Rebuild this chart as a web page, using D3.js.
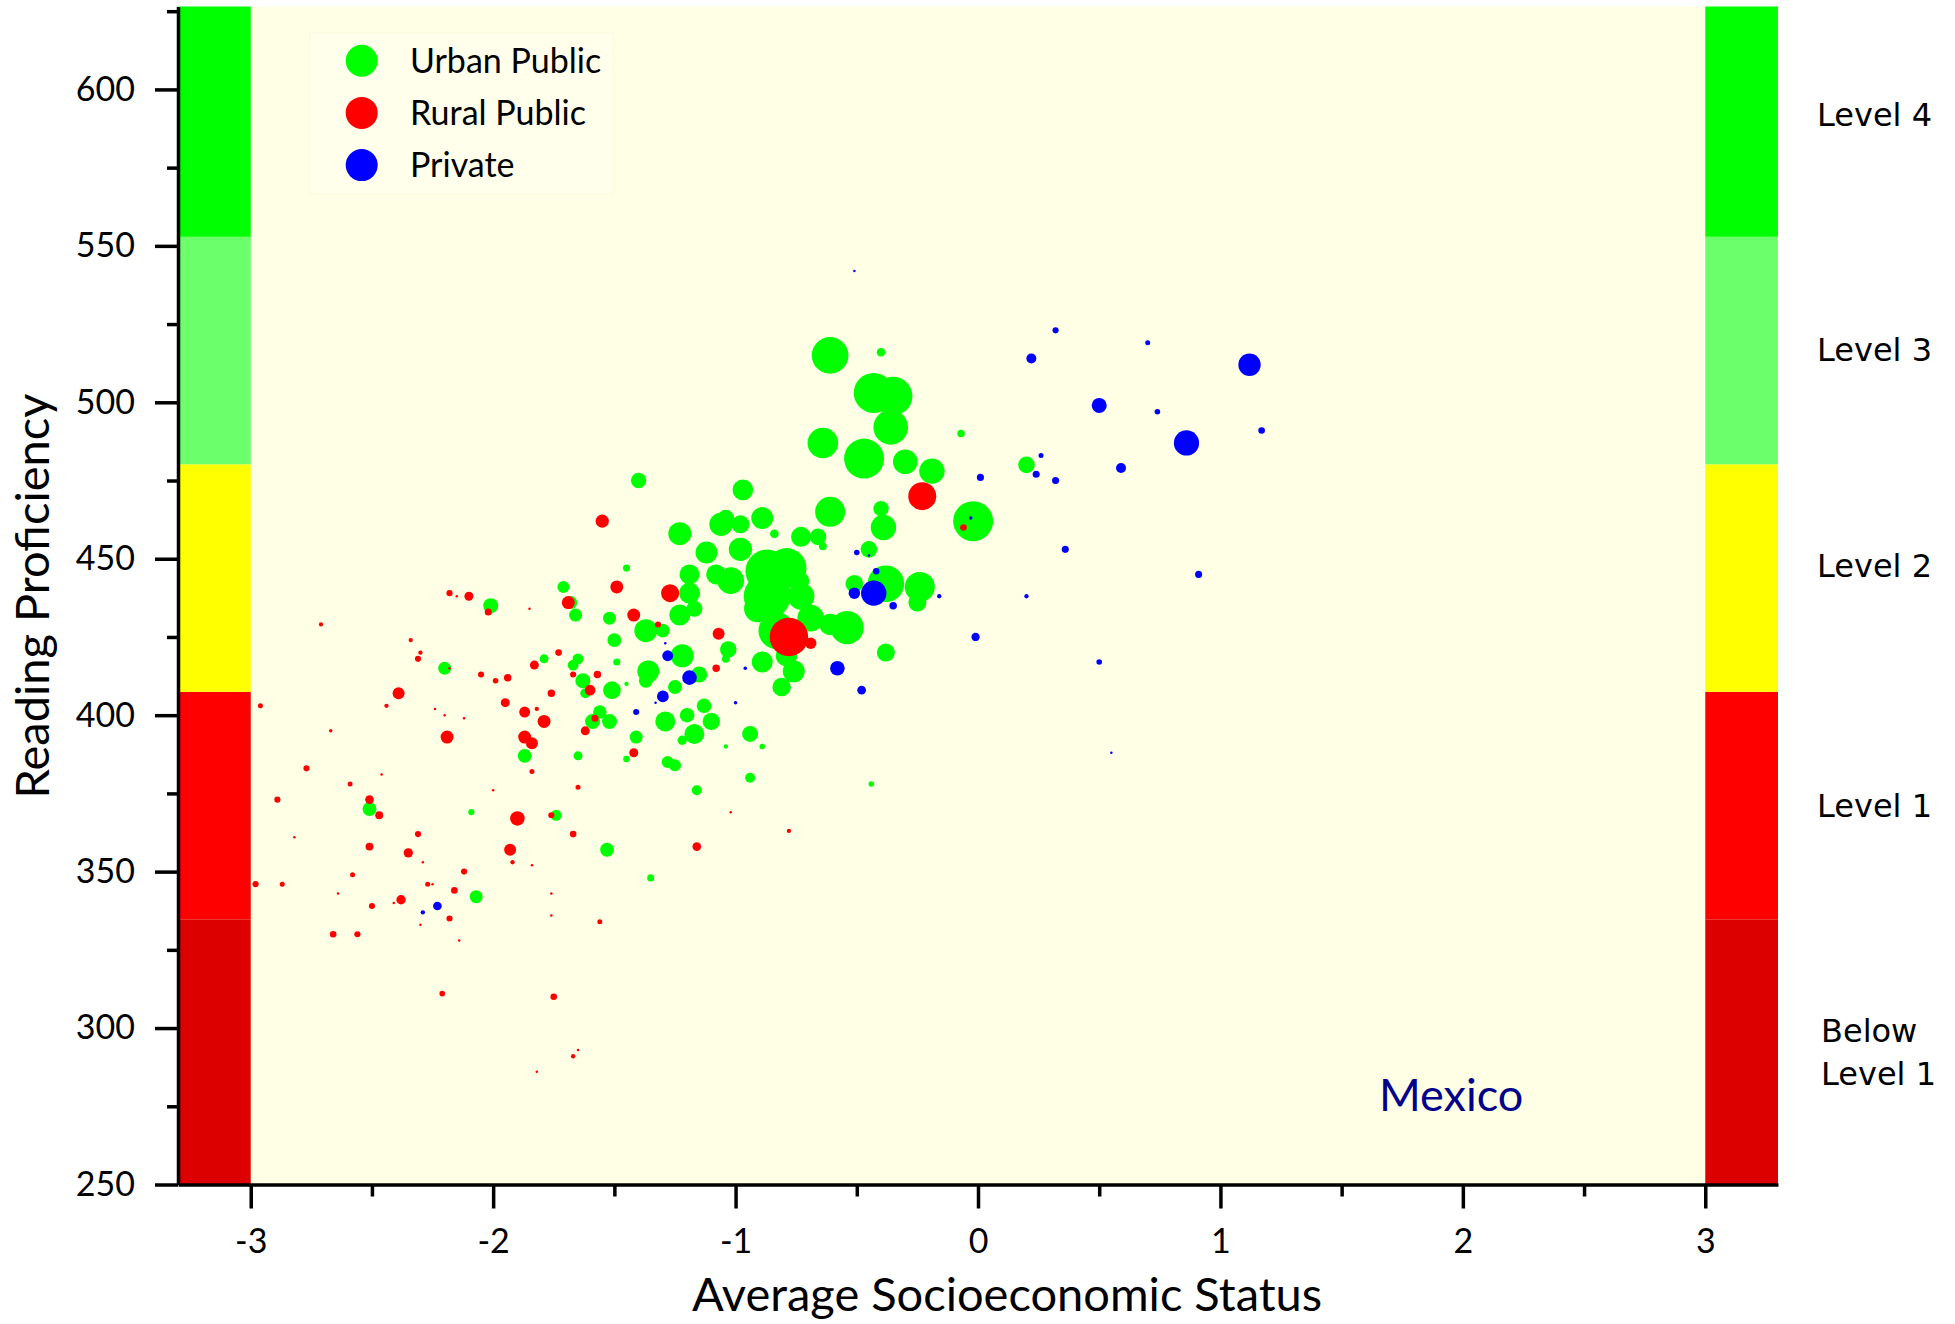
<!DOCTYPE html>
<html>
<head>
<meta charset="utf-8">
<script src="https://cdn.jsdelivr.net/npm/d3@7"></script>
<style>
  html, body { margin: 0; padding: 0; background: #ffffff; }
  svg { display: block; }
  text { font-family: Lato, "Open Sans", sans-serif; fill: #000; }
</style>
</head>
<body>
<svg id="chart" width="1955" height="1324"></svg>
<script>
// School-level points: [average socioeconomic status, mean reading score, students sampled]
const urbanPublic = [
  [-2.51,370,31],[-2.09,369,6],[-1.74,368,19],[-1.53,357,31],[-1.35,348,8],[-2.07,342,27],
  [-1.87,387,31],[-1.65,387,13],[-1.45,386,7],[-1.41,393,27],[-1.59,398,36],[-1.52,398,36],
  [-1.29,398,64],[-1.28,385,23],[-1.25,384,23],[-1.16,376,16],[-1.17,394,64],[-0.94,394,41],
  [-1.20,400,34],[-1.13,403,34],[-1.10,398,48],[-1.51,408,50],[-1.62,407,16],[-1.56,401,29],
  [-1.22,392,14],[-1.04,390,3],[-0.89,390,5],[-0.94,380,16],[-0.44,378,5],[-0.81,409,55],
  [-2.01,435,36],[-1.71,441,23],[-1.68,436,27],[-1.66,432,27],[-1.52,431,27],[-1.50,424,31],
  [-1.37,427,85],[-1.30,427,30],[-1.45,447,8],[-1.23,458,85],[-1.19,439,71],[-1.19,445,64],
  [-1.23,432,71],[-1.17,434,41],[-1.03,421,44],[-1.04,418,10],[-0.89,417,71],[-0.84,458,12],
  [-0.89,463,77],[-0.98,461,52],[-0.79,419,73],[-0.76,414,77],[-2.20,415,27],[-1.79,418,13],
  [-1.65,418,19],[-1.67,416,19],[-1.63,411,36],[-1.49,417,8],[-1.45,410,3],[-1.22,419,85],
  [-1.36,414,77],[-1.37,411,31],[-1.25,409,31],[-1.15,413,41],[-1.40,475,38],[-0.97,472,68],
  [-1.06,461,87],[-1.04,463,44],[-1.12,452,77],[-0.98,453,87],[-1.02,443,114],[-0.87,446,300],
  [-0.79,447,256],[-0.87,438,348],[-0.73,438,114],[-0.69,431,114],[-0.83,427,215],[-0.61,465,144],
  [-0.73,457,64],[-0.66,457,44],[-0.64,454,10],[-1.08,445,64],[-0.73,443,44],[-0.91,434,114],
  [-0.40,466,38],[-0.39,460,103],[-0.45,453,44],[-0.51,442,50],[-0.38,442,215],[-0.24,441,144],
  [-0.25,436,52],[-0.54,428,178],[-0.61,429,73],[-0.38,420,52],
  [-0.61,515,215],[-0.40,516,12],[-0.43,503,256],[-0.35,502,238],[-0.36,492,192],[-0.64,487,150],
  [-0.47,482,256],[-0.30,481,97],[-0.19,478,103],[-0.07,490,9],[0.20,480,44],[-0.02,462,256]
];

const ruralPublic = [
  [-2.96,403,4],[-2.44,403,3],[-2.24,402,1],[-2.20,400,1],[-2.12,399,1],[-1.95,404,13],
  [-1.87,401,19],[-1.82,402,3],[-1.79,398,27],[-2.67,395,2],[-2.19,393,27],[-1.87,393,27],
  [-1.84,391,23],[-1.62,395,13],[-1.58,399,8],[-1.42,388,13],[-2.77,383,6],[-2.46,381,1],
  [-1.84,382,4],[-2.89,373,6],[-2.59,378,4],[-2.00,376,1],[-1.65,377,4],[-2.51,373,12],
  [-2.47,368,10],[-1.90,367,34],[-1.76,368,6],[-2.82,361,1],[-2.31,362,6],[-1.67,362,7],
  [-2.51,358,10],[-2.35,356,14],[-1.93,357,23],[-1.16,358,12],[-2.29,353,1],[-1.92,353,3],
  [-1.84,352,1],[-2.58,349,4],[-2.12,350,6],[-2.98,346,6],[-2.87,346,4],[-2.27,346,4],
  [-2.25,346,1],[-2.64,343,1],[-2.16,344,7],[-2.38,341,14],[-2.50,339,6],[-2.41,340,1],
  [-1.76,343,1],[-2.18,335,6],[-1.76,336,1],[-1.56,334,4],[-2.30,333,1],[-2.66,330,7],
  [-2.56,330,6],[-2.14,328,1],[-2.21,311,5],[-1.75,310,7],[-1.67,291,3],[-1.65,293,1],
  [-1.82,286,1],
  [-1.55,462,28],[-1.49,441,27],[-1.69,436,27],[-1.42,432,27],[-1.32,429,6],[-1.27,439,52],
  [-1.07,426,23],[-2.18,439,6],[-2.15,438,1],[-2.10,438,13],[-2.02,433,8],[-1.85,434,1],
  [-2.71,429,3],[-2.34,424,3],[-2.30,420,3],[-2.31,418,6],[-2.18,415,1],[-1.73,420,7],
  [-1.83,416,13],[-1.67,413,6],[-1.57,413,9],[-1.60,408,18],[-2.39,407,23],[-1.08,415,9],
  [-0.69,423,21],[-0.78,425,238],[-0.23,470,125],[-0.06,460,7],[-1.02,369,1],[-0.78,363,3],
  [-1.76,407,9],[-2.05,413,6],[-1.99,411,5],[-1.94,412,9]
];

const privateSchools = [
  [-0.51,542,1],[0.32,523,6],[0.70,519,4],[0.22,514,16],[1.12,512,80],[0.50,499,36],
  [0.74,497,5],[1.17,491,7],[0.86,487,102],[0.26,483,4],[0.24,477,8],[0.32,475,8],
  [0.59,479,16],[0.01,476,8],[-0.03,463,2],[0.36,453,8],[0.91,445,8],[0.20,438,3],
  [-0.16,438,3],[-0.35,435,9],[-0.43,439,103],[-0.51,439,21],[-0.42,446,7],[-0.50,452,5],
  [-0.45,451,1],[-0.01,425,11],[0.50,417,5],[-0.48,408,12],[-0.58,415,34],[0.55,388,1],
  [-0.96,415,2],[-1.00,404,2],[-1.28,419,19],[-1.29,423,1],[-1.19,412,34],[-1.30,406,22],
  [-1.41,401,6],[-2.23,339,12],[-2.29,337,3],[-1.33,404,1]
];

const sectorNames = ["Urban Public", "Rural Public", "Private"];
const sectorColors = ["#00ff00", "#ff0000", "#0000ff"];

// PISA reading proficiency bands (lower cut-offs, top = axis maximum)
const levelCuts = [250, 334.75, 407.47, 480.18, 552.89, 626.5];
const levelNames = [["Below", "Level 1"], ["Level 1"], ["Level 2"], ["Level 3"], ["Level 4"]];
const levelColors = ["#dd0000", "#ff0000", "#ffff00", "#6cff6c", "#00ff00"];
const levelLabelScore = [292.5, 371, 448, 517, 592];

const xTicks = [-3, -2, -1, 0, 1, 2, 3];
const xMinorTicks = [-2.5, -1.5, -0.5, 0.5, 1.5, 2.5];
const yTicks = [250, 300, 350, 400, 450, 500, 550, 600];
const yMinorTicks = [275, 325, 375, 425, 475, 525, 575, 625];

const countryName = "Mexico";
const xTitle = "Average Socioeconomic Status";
const yTitle = "Reading Proficiency";

const svg = d3.select("#chart");

const x = d3.scaleLinear().domain([-3.3, 3.3]).range([178, 1778]);
const y = d3.scaleLinear().domain([250, 626.5]).range([1184.5, 6.5]);
const r = d3.scaleSqrt().domain([0, 100]).range([0, 12.5]);

// plot background
svg.append("rect")
  .attr("x", x(-3.3)).attr("y", y(626.5))
  .attr("width", x(3.3) - x(-3.3)).attr("height", y(250) - y(626.5))
  .attr("fill", "#ffffe6");

// proficiency bands on both sides
const bands = d3.range(levelColors.length).map(i => ({lo: levelCuts[i], hi: levelCuts[i + 1], c: levelColors[i]}));
[[-3.3, -3], [3, 3.3]].forEach(([a, b]) => {
  svg.append("g").selectAll("rect").data(bands).join("rect")
    .attr("x", x(a)).attr("width", x(b) - x(a))
    .attr("y", d => y(d.hi)).attr("height", d => y(d.lo) - y(d.hi))
    .attr("fill", d => d.c);
});

// legend box
const legend = svg.append("g");
legend.append("rect")
  .attr("x", 310).attr("y", 33).attr("width", 303).attr("height", 161)
  .attr("fill", "#ffffec").attr("stroke", "#fafae0").attr("stroke-width", 1);
sectorNames.forEach((name, i) => {
  const cy = 60.7 + i * 52.2;
  legend.append("circle").attr("cx", 361.7).attr("cy", cy).attr("r", 16).attr("fill", sectorColors[i]);
  legend.append("text").attr("x", 410).attr("y", cy).attr("dy", "0.36em")
    .style("font-size", "34px").text(name);
});

// bubbles: sectors drawn in legend order, larger schools first within each sector
const bubbles = svg.append("g");
[urbanPublic, ruralPublic, privateSchools].forEach((arr, k) => {
  const pts = arr.map(d => ({ses: d[0], score: d[1], n: d[2]})).sort((a, b) => b.n - a.n);
  bubbles.append("g").selectAll("circle").data(pts).join("circle")
    .attr("cx", d => x(d.ses))
    .attr("cy", d => y(d.score))
    .attr("r", d => Math.max(1, r(d.n)))
    .attr("fill", sectorColors[k]);
});

// axes
const fmt = d => String(d);
const gx = svg.append("g").attr("transform", `translate(0,${y(250)})`)
  .call(d3.axisBottom(x).tickValues(xTicks).tickFormat(fmt).tickSize(24).tickPadding(20).tickSizeOuter(0));
const gxm = svg.append("g").attr("transform", `translate(0,${y(250)})`)
  .call(d3.axisBottom(x).tickValues(xMinorTicks).tickFormat("").tickSize(12).tickSizeOuter(0));
const gy = svg.append("g").attr("transform", `translate(${x(-3.3)},0)`)
  .call(d3.axisLeft(y).tickValues(yTicks).tickFormat(fmt).tickSize(23).tickPadding(20).tickSizeOuter(0));
const gym = svg.append("g").attr("transform", `translate(${x(-3.3)},0)`)
  .call(d3.axisLeft(y).tickValues(yMinorTicks).tickFormat("").tickSize(11).tickSizeOuter(0));
gxm.select(".domain").remove();
gym.select(".domain").remove();
[gx, gxm, gy, gym].forEach(g => {
  g.selectAll(".domain").attr("stroke", "#000").attr("stroke-width", 3.5);
  g.selectAll(".tick line").attr("stroke", "#000").attr("stroke-width", 3.5);
  g.selectAll(".tick text").attr("fill", "#000")
    .style("font-family", "Lato, sans-serif").style("font-size", "34px");
});

// axis titles
svg.append("text").attr("x", 1007).attr("y", 1311).attr("text-anchor", "middle")
  .style("font-size", "47px").text(xTitle);
svg.append("text").attr("transform", "translate(49,596) rotate(-90)").attr("text-anchor", "middle")
  .style("font-size", "47px").text(yTitle);

// proficiency level names on the right
const lvl = svg.append("g");
levelNames.forEach((lines, i) => {
  const t = lvl.append("text")
    .attr("x", 1817).attr("y", y(levelLabelScore[i]))
    .style("font-family", "'DejaVu Sans', sans-serif").style("font-size", "32px");
  const off = -(lines.length - 1) / 2 * 43;
  lines.forEach((s, j) => {
    t.append("tspan").attr("x", lines.length > 1 ? 1821 : 1817)
      .attr("y", y(levelLabelScore[i]) + off + j * 43).attr("dy", "0.36em").text(s);
  });
});

// country label
svg.append("text").attr("x", 1379).attr("y", 1111)
  .style("font-size", "45px").style("fill", "#00008b").text(countryName);
</script>
</body>
</html>
